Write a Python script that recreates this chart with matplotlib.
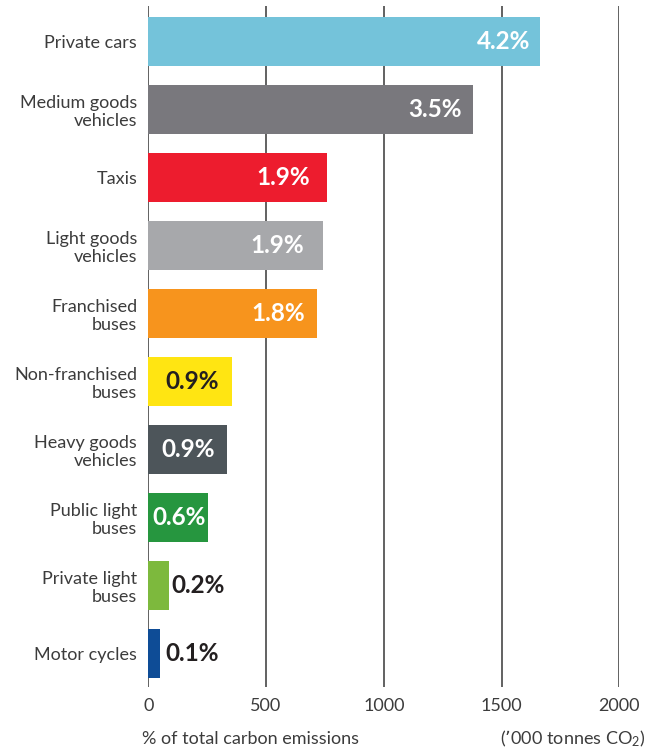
import matplotlib
matplotlib.use("Agg")
import matplotlib.pyplot as plt
import numpy as np

categories = ["Private cars", "Medium goods\nvehicles", "Taxis", "Light goods\nvehicles",
              "Franchised\nbuses", "Non-franchised\nbuses", "Heavy goods\nvehicles",
              "Public light\nbuses", "Private light\nbuses", "Motor cycles"]
emissions = [1662, 1378, 759, 742, 716, 355, 334, 253, 88, 50]  # '000 tonnes CO2
shares = ["4.2%", "3.5%", "1.9%", "1.9%", "1.8%", "0.9%", "0.9%", "0.6%", "0.2%", "0.1%"]
ticks = [0, 500, 1000, 1500, 2000]

colors = ["#74c3da", "#79787d", "#ed1c2e", "#a7a8ab", "#f7941d",
          "#ffe512", "#4d555a", "#26963f", "#7db93d", "#0e4c96"]
# label colour, and where the label sits relative to bar end (pixels)
label_colors = ["white"] * 5 + ["#231f20", "white", "white", "#231f20", "#231f20"]
label_inside = [True] * 8 + [False, False]
label_pad = [9, 11, 17, 19, 12, 13, 12, 2, 2, 5]

plt.rcParams["font.family"] = ["Lato", "DejaVu Sans"]
plt.rcParams["mathtext.default"] = "regular"
text_color = "#3c3c3c"

fig = plt.figure(figsize=(6.59, 7.49), dpi=100)
ax = fig.add_axes([148.3 / 659, 62 / 749, 471 / 659, 681 / 749])

y = np.arange(len(categories))
ax.barh(y, emissions, height=0.72, color=colors, zorder=2)

for xv in ticks:
    ax.axvline(xv, color="#555555", lw=1.3, zorder=1)

for i, (v, s) in enumerate(zip(emissions, shares)):
    if label_inside[i]:
        ax.annotate(s, (v, i), xytext=(-label_pad[i] * 0.72, 0), textcoords="offset points",
                    ha="right", va="center", fontsize=17.5, fontweight="bold",
                    color=label_colors[i], zorder=3)
    else:
        ax.annotate(s, (v, i), xytext=(label_pad[i] * 0.72, 0), textcoords="offset points",
                    ha="left", va="center", fontsize=17.5, fontweight="bold",
                    color=label_colors[i], zorder=3)

ax.set_xlim(0, 2000)
ax.set_ylim(9.493, -0.522)
ax.set_yticks(y)
ax.set_yticklabels(categories, fontsize=13, color=text_color, linespacing=1.15)
ax.set_xticks(ticks)
ax.set_xticklabels([str(t) for t in ticks], fontsize=13, color=text_color)
ax.tick_params(length=0, axis="y", pad=8)
ax.tick_params(length=0, axis="x", pad=8)
for sp in ax.spines.values():
    sp.set_visible(False)

fig.text(142 / 659, 1 - 739 / 749, "% of total carbon emissions", fontsize=13,
         color=text_color, ha="left", va="center")
fig.text(645 / 659, 1 - 739 / 749, "(’000 tonnes CO$_2$)", fontsize=13,
         color=text_color, ha="right", va="center")

fig.savefig("out.png", dpi=100)
